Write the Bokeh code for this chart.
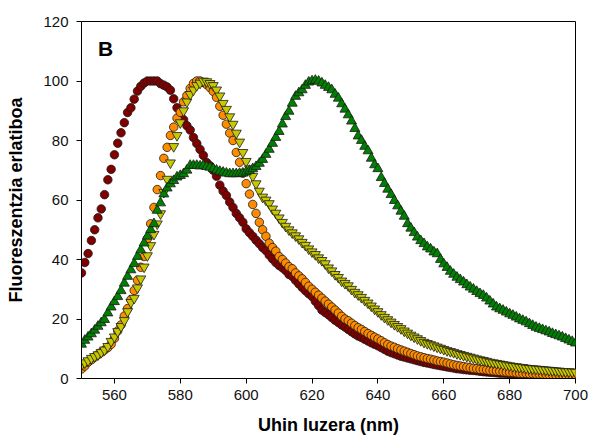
from bokeh.plotting import figure
from bokeh.models import Range1d, FixedTicker, Label
from bokeh.embed import file_html
from bokeh.resources import INLINE

wavelength = list(range(550, 701))

red_series = [
    35.5, 39.0, 42.0, 46.4, 50.0, 54.0, 57.0, 61.8, 66.8, 70.3,
    75.2, 79.1, 82.6, 86.0, 89.4, 91.0, 93.9, 96.6, 98.2, 99.3,
    100.0, 100.0, 100.0, 100.0, 99.1, 98.6, 98.0, 96.9, 94.0, 91.0,
    88.5, 87.0, 85.0, 83.5, 81.0, 79.0, 77.0, 75.0, 72.6, 71.5,
    70.0, 68.0, 65.0, 63.0, 61.5, 59.3, 57.5, 55.5, 54.0, 52.5,
    50.3, 49.0, 47.8, 46.5, 45.3, 44.0, 43.0, 41.5, 40.2, 39.0,
    38.0, 37.2, 36.3, 35.0, 34.3, 33.0, 31.8, 30.6, 29.5, 28.5,
    27.6, 26.0, 24.5, 23.0, 22.2, 21.4, 20.5, 19.6, 18.8, 18.0,
    17.3, 16.5, 15.7, 15.0, 14.3, 13.8, 13.2, 12.6, 12.0, 11.5,
    11.0, 10.4, 9.8, 9.2, 8.7, 8.3, 7.9, 7.5, 7.2, 6.9,
    6.6, 6.3, 6.0, 5.7, 5.4, 5.2, 5.0, 4.7, 4.5, 4.3,
    4.1, 3.9, 3.7, 3.5, 3.3, 3.2, 3.0, 2.9, 2.8, 2.7,
    2.6, 2.4, 2.3, 2.2, 2.1, 2.0, 1.9, 1.8, 1.8, 1.7,
    1.6, 1.6, 1.5, 1.4, 1.4, 1.3, 1.3, 1.2, 1.2, 1.1,
    1.1, 1.0, 1.0, 1.0, 0.9, 0.9, 0.9, 0.8, 0.8, 0.8,
    0.7,
]

orange_series = [
    3.2, 4.2, 5.5, 6.3, 7.2, 8.0, 8.8, 9.6, 10.4, 11.5,
    13.5, 16.0, 18.0, 21.0, 23.5, 26.5, 29.6, 33.0, 37.4, 41.0,
    47.0, 52.0, 57.5, 63.5, 68.2, 74.0, 77.7, 81.7, 84.5, 87.5,
    89.5, 93.0, 95.1, 97.5, 99.2, 100.0, 100.0, 99.5, 98.8, 97.8,
    96.5, 94.5, 91.5, 88.5, 85.5, 82.5, 80.0, 76.0, 72.7, 69.0,
    65.5, 62.0, 58.5, 55.5, 52.5, 50.0, 47.8, 45.5, 44.0, 42.8,
    41.0, 40.0, 38.8, 37.6, 36.9, 35.5, 34.5, 33.5, 32.3, 31.0,
    30.0, 29.0, 28.0, 27.0, 26.0, 25.0, 24.0, 23.0, 22.0, 20.9,
    20.0, 19.4, 18.6, 17.8, 17.1, 16.5, 15.8, 15.1, 14.5, 13.9,
    13.3, 12.7, 12.0, 11.4, 10.9, 10.5, 10.0, 9.6, 9.2, 8.8,
    8.4, 8.0, 7.6, 7.3, 7.0, 6.7, 6.5, 6.2, 5.9, 5.7,
    5.5, 5.2, 4.9, 4.6, 4.4, 4.2, 4.0, 3.8, 3.6, 3.4,
    3.3, 3.1, 3.0, 2.9, 2.7, 2.6, 2.5, 2.4, 2.3, 2.2,
    2.1, 2.0, 1.9, 1.8, 1.7, 1.7, 1.6, 1.6, 1.5, 1.5,
    1.4, 1.4, 1.3, 1.3, 1.2, 1.2, 1.2, 1.1, 1.1, 1.0,
    1.0,
]

yellow_series = [
    4.5, 5.3, 6.0, 6.8, 7.4, 8.0, 8.8, 9.6, 10.8, 12.5,
    14.0, 15.8, 17.5, 19.5, 22.5, 25.6, 27.0, 30.5, 33.5, 37.5,
    41.3, 44.7, 48.5, 52.0, 55.4, 62.6, 67.0, 72.5, 78.0, 81.7,
    86.0, 90.0, 93.0, 95.5, 97.0, 98.5, 99.3, 100.0, 99.8, 99.2,
    98.5, 97.0, 95.0, 92.5, 90.5, 88.0, 85.5, 82.5, 79.5, 76.0,
    73.0, 70.5, 68.0, 65.5, 63.0, 61.0, 60.0, 58.8, 57.0, 55.6,
    54.0, 52.5, 51.2, 50.0, 49.0, 48.0, 47.0, 45.8, 44.8, 43.6,
    42.6, 41.7, 40.6, 39.7, 38.6, 37.2, 36.2, 35.0, 34.0, 32.8,
    32.0, 31.2, 30.0, 29.0, 28.2, 27.3, 26.3, 25.4, 24.4, 23.4,
    22.5, 21.5, 20.6, 19.8, 19.0, 18.2, 17.5, 16.8, 16.0, 15.3,
    14.6, 14.0, 13.4, 12.8, 12.2, 11.8, 11.4, 11.0, 10.6, 10.2,
    9.8, 9.4, 9.1, 8.8, 8.4, 8.1, 7.8, 7.5, 7.2, 6.9,
    6.6, 6.3, 6.1, 5.8, 5.5, 5.3, 5.1, 4.9, 4.7, 4.5,
    4.3, 4.1, 4.0, 3.8, 3.7, 3.5, 3.4, 3.3, 3.2, 3.1,
    3.0, 2.9, 2.8, 2.7, 2.6, 2.5, 2.4, 2.3, 2.3, 2.2,
    2.1,
]

green_series = [
    11.5, 12.8, 13.9, 15.0, 16.2, 17.5, 18.7, 19.8, 22.0, 24.0,
    25.8, 27.5, 29.5, 32.0, 34.3, 36.5, 38.6, 41.0, 43.2, 45.5,
    47.8, 50.0, 52.0, 56.5, 59.0, 62.0, 64.0, 65.4, 66.5, 67.7,
    68.2, 68.8, 70.0, 71.6, 71.6, 71.6, 71.4, 71.6, 71.2, 71.0,
    70.5, 70.0, 69.6, 69.3, 69.0, 68.8, 68.8, 68.8, 68.9, 69.0,
    69.4, 69.9, 70.5, 71.2, 72.3, 73.6, 75.3, 77.0, 79.0, 81.0,
    83.0, 85.5, 88.0, 89.8, 92.5, 94.8, 96.0, 97.0, 98.5, 99.6,
    100.0, 100.2, 99.9, 99.3, 98.5, 97.8, 97.0, 95.5, 94.2, 92.3,
    90.5, 88.6, 86.5, 84.0, 81.5, 80.0, 78.0, 76.5, 74.0, 71.8,
    70.5, 67.5, 65.5, 63.6, 61.8, 59.8, 58.0, 56.2, 54.5, 52.0,
    50.5, 49.0, 47.5, 46.3, 45.3, 44.2, 43.5, 42.5, 41.9, 40.0,
    38.5, 37.3, 36.0, 35.0, 34.0, 33.2, 32.4, 31.5, 30.7, 30.0,
    29.2, 28.5, 27.9, 27.0, 26.0, 25.0, 24.0, 23.4, 22.9, 22.3,
    21.7, 21.2, 20.6, 20.0, 19.5, 19.0, 18.4, 17.8, 17.2, 16.8,
    16.4, 16.0, 15.6, 15.1, 14.7, 14.3, 13.9, 13.4, 12.9, 12.4,
    11.9,
]

x_ticks = [560, 580, 600, 620, 640, 660, 680, 700]
y_ticks = [0, 20, 40, 60, 80, 100, 120]

FONT = "Liberation Sans"

p = figure(width=590, height=439,
           x_range=Range1d(550, 700), y_range=Range1d(0, 120),
           output_backend="svg", toolbar_location=None,
           min_border_left=81, min_border_right=15,
           min_border_top=21, min_border_bottom=61,
           background_fill_color="white", border_fill_color="white")
p.grid.visible = False
p.outline_line_color = "black"
p.outline_line_width = 1

for ax in (p.xaxis[0], p.yaxis[0]):
    ax.major_label_text_font = FONT
    ax.major_label_text_font_size = "15px"
    ax.major_label_text_color = "#111111"
    ax.axis_label_text_font = FONT
    ax.axis_label_text_font_size = "18px"
    ax.axis_label_text_font_style = "bold"
    ax.axis_label_text_color = "black"
    ax.major_tick_in = 0
    ax.major_tick_out = 5
    ax.minor_tick_in = 0
    ax.minor_tick_out = 0
    ax.axis_line_color = "black"
    ax.major_tick_line_color = "black"

p.xaxis.ticker = FixedTicker(ticks=x_ticks)
p.yaxis.ticker = FixedTicker(ticks=y_ticks)
p.xaxis.axis_label = "Uhin luzera (nm)"
p.yaxis.axis_label = "Fluoreszentzia erlatiboa"
p.xaxis.major_label_standoff = 6
p.xaxis.axis_label_standoff = 12
p.yaxis.major_label_standoff = 8
p.yaxis.axis_label_standoff = 14

edge = "#1a1a1a"
p.scatter(wavelength, red_series, marker="circle", size=8.5,
          fill_color="#800000", line_color=edge, line_width=0.8)
p.scatter(wavelength, orange_series, marker="circle", size=8.5,
          fill_color="#FF8C00", line_color=edge, line_width=0.8)
p.scatter(wavelength, yellow_series, marker="inverted_triangle", size=10,
          fill_color="#C8C800", line_color=edge, line_width=0.8)
p.scatter(wavelength, green_series, marker="triangle", size=10,
          fill_color="#008000", line_color=edge, line_width=0.8)

p.add_layout(Label(x=555, y=111, text="B", text_font=FONT,
                   text_font_size="21px", text_font_style="bold",
                   text_baseline="alphabetic", text_color="black"))

open("out.html", "w").write(file_html(p, INLINE))
